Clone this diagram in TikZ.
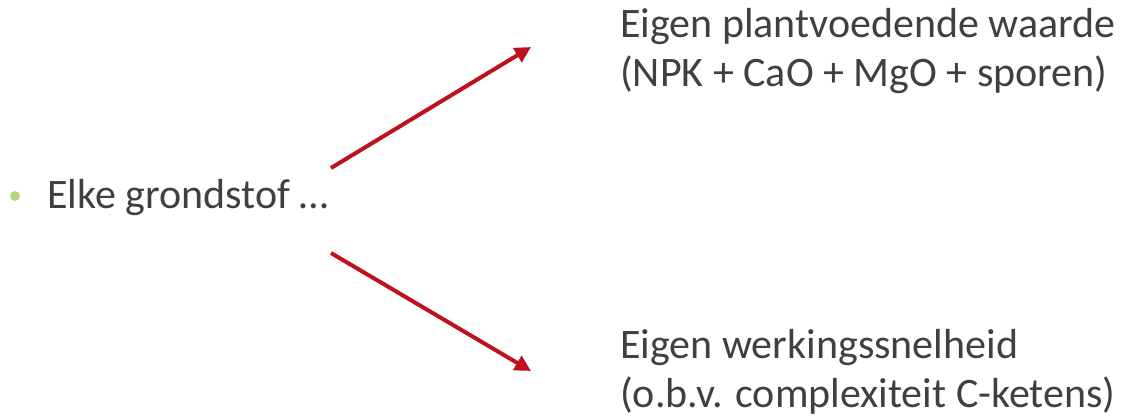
\documentclass[tikz,border=0pt]{standalone}
\usepackage{fontspec}
\setmainfont{Carlito}
\usetikzlibrary{arrows.meta}
\definecolor{txt}{RGB}{64,64,64}
\definecolor{bul}{RGB}{181,214,127}
\definecolor{arr}{RGB}{192,16,30}
\tikzset{
  lbl/.style={anchor=base west, inner sep=0pt, text=txt, font=\fontsize{42}{50}\selectfont},
  redarrow/.style={draw=arr, line width=4pt, -{Triangle[length=16pt,width=16pt]}}
}
\begin{document}
\begin{tikzpicture}[x=1pt,y=-1pt]
\useasboundingbox (0,0) rectangle (1126,418);
\node[circle, fill=bul, inner sep=0pt, minimum size=10pt] (bullet) at (15,196) {};
\node[lbl] (src) at (47,208) {Elke grondstof …};
\node[lbl] (t1) at (620,37) {Eigen plantvoedende waarde};
\node[lbl] (t2) at (620,86) {(NPK + CaO + MgO + sporen)};
\node[lbl] (b1) at (620,358) {Eigen werkingssnelheid};
\node[lbl] (b2) at (620,407) {(o.b.v. complexiteit C-ketens)};
\coordinate (s1) at (331,168);
\coordinate (e1) at (531,47);
\coordinate (s2) at (331,253);
\coordinate (e2) at (531,371);
\draw[redarrow] (s1) -- (e1);
\draw[redarrow] (s2) -- (e2);
\end{tikzpicture}
\end{document}
